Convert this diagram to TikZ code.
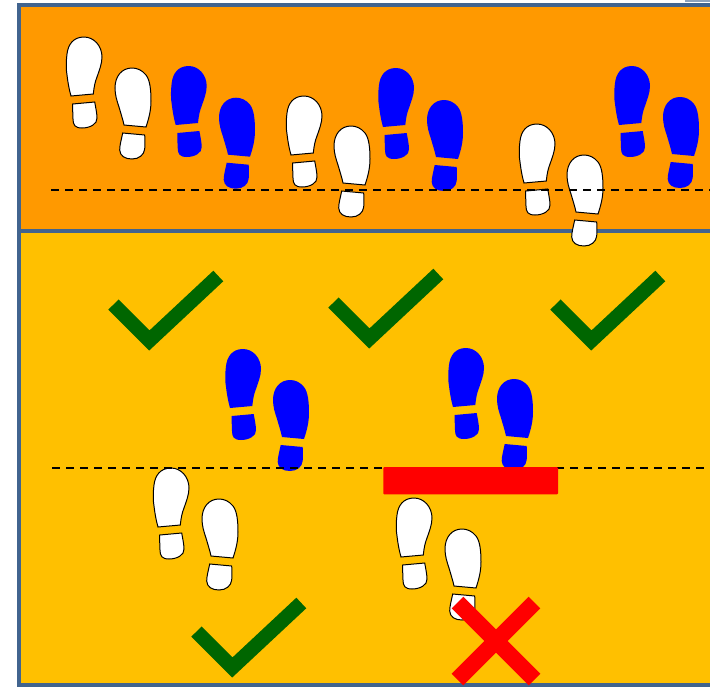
\documentclass[tikz,border=0pt]{standalone}
\definecolor{frameblue}{HTML}{41648F}
\definecolor{bandorange}{HTML}{FF9900}
\definecolor{bandyellow}{HTML}{FFC000}
\definecolor{checkgreen}{HTML}{006600}
\tikzset{
  x=1pt,y=-1pt,
  frameline/.style={draw=frameblue,line width=3.2pt},
  guide/.style={draw=black,line width=1.3pt,dash pattern=on 8pt off 6pt},
  whiteshoe/.style={draw=black,fill=white,line width=1pt},
  blueshoe/.style={draw=none,fill=blue},
  checkmark/.style={draw=checkgreen,line width=14.5pt,miter limit=10},
  crossline/.style={draw=red,line width=16.5pt},
  footL/.pic={
    \path[pic actions] (5,59) -- (27.3,57) .. controls (28,50) and (29,45) .. (31,40)
      .. controls (33,34) and (36,27) .. (36,20) .. controls (36,9) and (28,0) .. (18,0)
      .. controls (7,0) and (2,8) .. (1,17) .. controls (0,25) and (0,33) .. (1,38)
      .. controls (2,46) and (3,52) .. (5,59) -- cycle;
    \path[pic actions] (6.7,67) -- (28.7,65) .. controls (30,72) and (31,77) .. (31,81)
      .. controls (31.5,87) and (24,91) .. (16,91) .. controls (9,91) and (7,88) .. (7,82)
      .. controls (6.7,77) and (6.7,72) .. (6.7,67) -- cycle;
  },
  footR/.pic={
    \path[pic actions] (9,57) -- (31,59) .. controls (34,50) and (36,42) .. (36,33)
      .. controls (36,22) and (35,12) .. (31,7) .. controls (27,2) and (22,0) .. (17,0)
      .. controls (7,0) and (0,8) .. (0,20) .. controls (0,27) and (2,33) .. (4,39)
      .. controls (6,46) and (8,52) .. (9,57) -- cycle;
    \path[pic actions] (7.7,65) -- (29.7,67) .. controls (30,72) and (30,77) .. (29.7,81)
      .. controls (29,87) and (24,91) .. (17,91) .. controls (10,91) and (5,88) .. (4.7,82)
      .. controls (4.7,77) and (6.5,71) .. (7.7,65) -- cycle;
  },
}
\begin{document}
\begin{tikzpicture}
\useasboundingbox (0,0) rectangle (710,686);
% bands
\fill[bandorange] (19,5) rectangle (710,231);
\fill[bandyellow] (19,231) rectangle (710,685);
\fill[frameblue!60!white] (685,0) rectangle (710,1.5);
\draw[frameline] (710,5) -- (19,5) -- (19,685) -- (710,685);
\draw[frameline] (19,231) -- (710,231);
% footprints, upper band
\pic[whiteshoe] at (66,37) {footL};
\pic[whiteshoe] at (115,68) {footR};
\pic[blueshoe] at (170.7,66) {footL};
\pic[blueshoe] at (219,97.7) {footR};
\pic[whiteshoe] at (286,96) {footL};
\pic[whiteshoe] at (334,126) {footR};
\pic[blueshoe] at (378,68) {footL};
\pic[blueshoe] at (427,100) {footR};
\pic[whiteshoe] at (519,124) {footL};
\pic[whiteshoe] at (567,155) {footR};
\pic[blueshoe] at (614,66) {footL};
\pic[blueshoe] at (663,97) {footR};
% footprints, lower band
\pic[blueshoe] at (225,349) {footL};
\pic[blueshoe] at (273,380) {footR};
\pic[whiteshoe] at (153,468) {footL};
\pic[whiteshoe] at (202,499) {footR};
\pic[blueshoe] at (448,348) {footL};
\pic[blueshoe] at (497,379) {footR};
\pic[whiteshoe] at (396,498) {footL};
\pic[whiteshoe] at (445,529) {footR};
% guide lines
\draw[guide] (51,190) -- (710,190);
\draw[guide] (52,468) -- (710,468);
% barrier
\fill[red,rounded corners=1pt] (383.3,467) rectangle (558,494.3);
% checks
\foreach \dx/\dy in {0/0,220/-2,442/0,83/327}{
  \draw[checkmark] (113.5+\dx,304.5+\dy) -- (149.3+\dx,340.5+\dy) -- (218.3+\dx,276+\dy);
}
% cross
\draw[crossline] (457.5,602.5) -- (534.5,679.5);
\draw[crossline] (534.5,602.5) -- (457.5,679.5);
\end{tikzpicture}
\end{document}
